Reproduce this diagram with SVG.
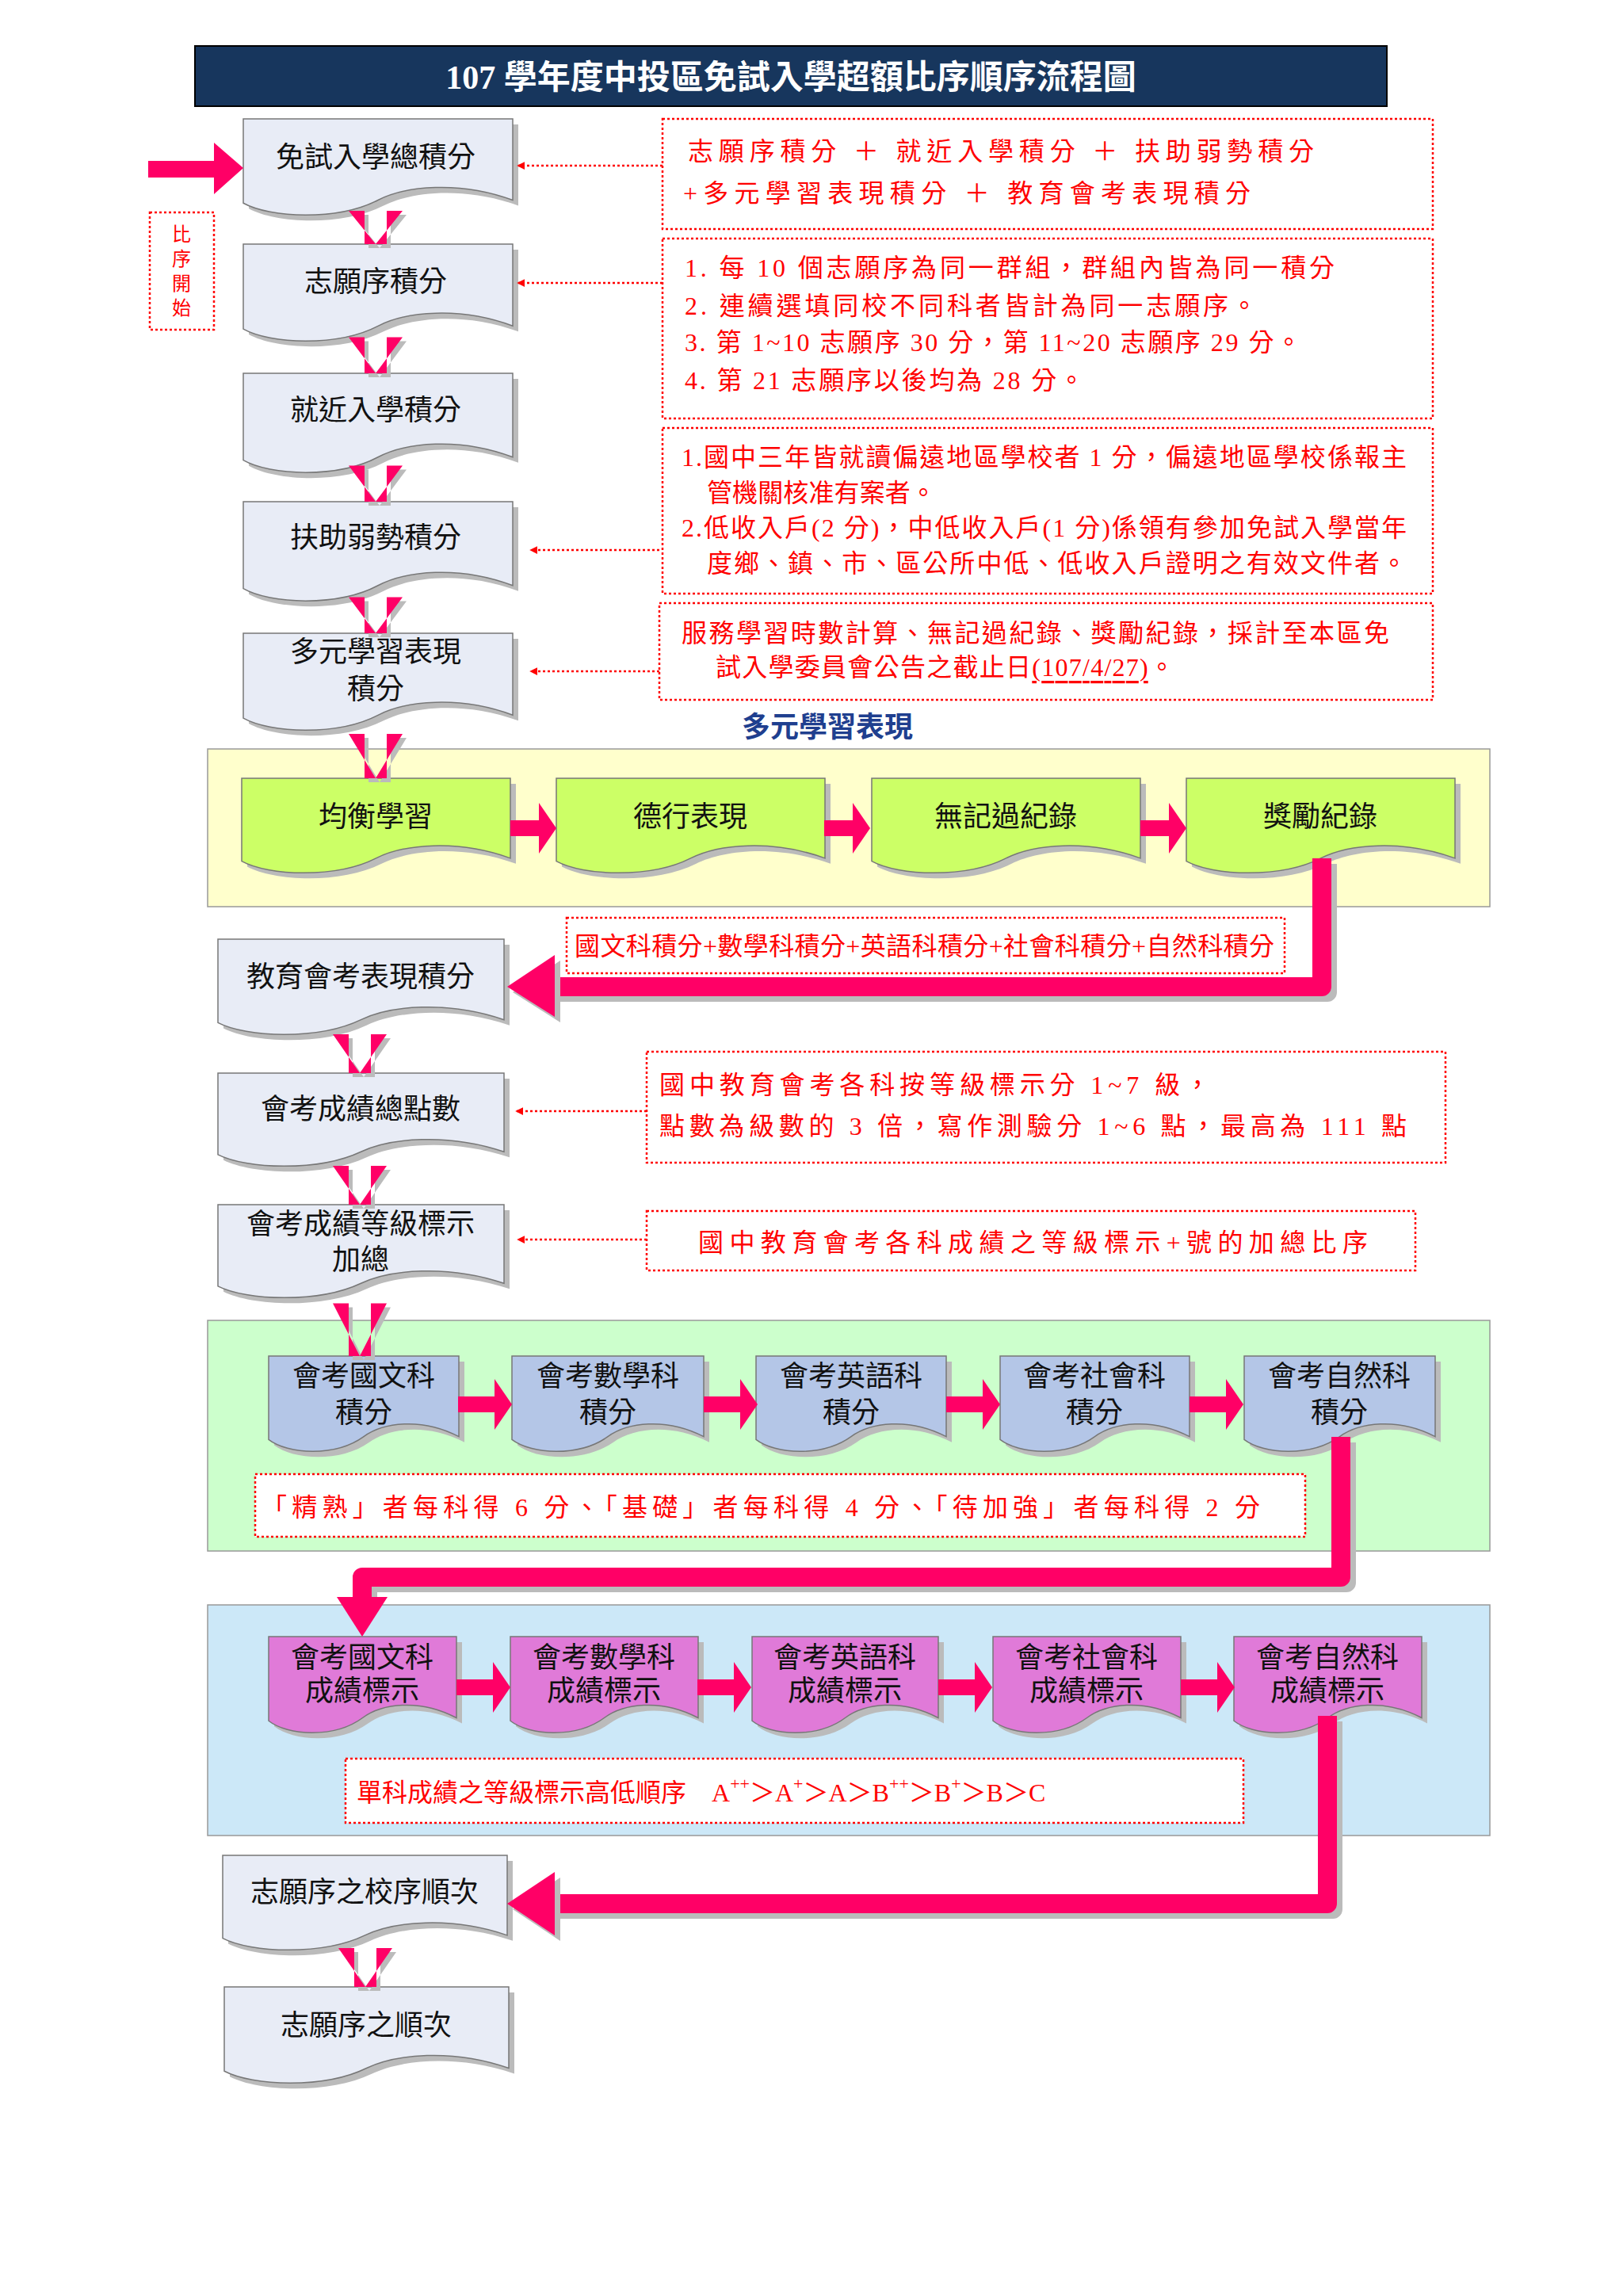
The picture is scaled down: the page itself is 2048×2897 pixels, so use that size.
<svg xmlns="http://www.w3.org/2000/svg" xmlns:xlink="http://www.w3.org/1999/xlink" width="2048" height="2897" viewBox="0 0 2048 2897">
<style>
text{font-family:"Liberation Serif","Noto Sans CJK TC",serif;dominant-baseline:central}
.nt{font-size:36px;fill:#111;text-anchor:middle}
.rt{font-size:32px;fill:#ff0000}
.rb{fill:#fff;stroke:#ff0000;stroke-width:2.5;stroke-dasharray:3 3}
.dl{stroke:#ff0000;stroke-width:2.5;stroke-dasharray:3 3;fill:none;marker-end:url(#ra)}
.pk{fill:#ff0066}
.sh{fill:#bbbbbb}
.bar{fill:none;stroke:#ff0066;stroke-width:24;stroke-linejoin:round}
.bsh{fill:none;stroke:#bbbbbb;stroke-width:24;stroke-linejoin:round}
.d{fill:#e8ecf6}.g{fill:#ccff66}.b{fill:#b4c6e7}.p{fill:#e07ad8}
</style>
<defs>
<path id="doc" d="M0 0 H100 V82 C80 62 60 68 50 82 C35 103 10 100 0 85 Z" stroke="#777" stroke-width="1.5" vector-effect="non-scaling-stroke"/>
<path id="dsh" d="M0 0 H100 V82 C80 62 60 68 50 82 C35 103 10 100 0 85 Z"/>
<marker id="ra" markerWidth="10" markerHeight="10" refX="8" refY="5" orient="auto" markerUnits="userSpaceOnUse"><path d="M0 0 L10 5 L0 10 Z" transform="scale(1.4) translate(-3,-1.5)" fill="#ff0000"/></marker>
<path id="da" d="M-14 0 H14 V-35 H34 L0 0 L-34 -35 H-14 Z"/>
</defs>
<rect width="2048" height="2897" fill="#fff"/>
<g id="title"><rect x="246" y="58" width="1504" height="76" fill="#17365d" stroke="#000" stroke-width="2"/><text x="998" y="98" font-size="42" font-weight="bold" fill="#fff" text-anchor="middle">107 學年度中投區免試入學超額比序順序流程圖</text></g>
<g id="panels">
<rect x="262" y="945" width="1618" height="199" fill="#ffffcc" stroke="#999" stroke-width="1.5"/>
<rect x="262" y="1666" width="1618" height="291" fill="#ccffcc" stroke="#999" stroke-width="1.5"/>
<rect x="262" y="2025" width="1618" height="291" fill="#cce8f8" stroke="#999" stroke-width="1.5"/>
</g>
<g id="start"><rect x="189" y="268" width="81" height="148" class="rb"/><text x="229" y="296" font-size="24" fill="#ff0000" text-anchor="middle">比</text><text x="229" y="327" font-size="24" fill="#ff0000" text-anchor="middle">序</text><text x="229" y="358" font-size="24" fill="#ff0000" text-anchor="middle">開</text><text x="229" y="389" font-size="24" fill="#ff0000" text-anchor="middle">始</text></g>
<g id="nodes">
<g id="n1"><use href="#dsh" class="sh" transform="translate(314,157) scale(3.4,1.25)"/><use href="#doc" class="d" transform="translate(307,150) scale(3.4,1.25)"/><text class="nt" x="474" y="199">免試入學總積分</text></g>
<g id="n2"><use href="#dsh" class="sh" transform="translate(314,315) scale(3.4,1.26)"/><use href="#doc" class="d" transform="translate(307,308) scale(3.4,1.26)"/><text class="nt" x="474" y="356">志願序積分</text></g>
<g id="n3"><use href="#dsh" class="sh" transform="translate(314,478) scale(3.4,1.29)"/><use href="#doc" class="d" transform="translate(307,471) scale(3.4,1.29)"/><text class="nt" x="474" y="518">就近入學積分</text></g>
<g id="n4"><use href="#dsh" class="sh" transform="translate(314,640) scale(3.4,1.29)"/><use href="#doc" class="d" transform="translate(307,633) scale(3.4,1.29)"/><text class="nt" x="474" y="679">扶助弱勢積分</text></g>
<g id="n5"><use href="#dsh" class="sh" transform="translate(314,806) scale(3.4,1.26)"/><use href="#doc" class="d" transform="translate(307,799) scale(3.4,1.26)"/><text class="nt" x="474" y="823">多元學習表現</text><text class="nt" x="474" y="870">積分</text></g>
<g id="g1"><use href="#dsh" class="sh" transform="translate(312,989) scale(3.39,1.23)"/><use href="#doc" class="g" transform="translate(305,982) scale(3.39,1.23)"/><text class="nt" x="474" y="1031">均衡學習</text></g>
<g id="g2"><use href="#dsh" class="sh" transform="translate(709,989) scale(3.39,1.23)"/><use href="#doc" class="g" transform="translate(702,982) scale(3.39,1.23)"/><text class="nt" x="871" y="1031">德行表現</text></g>
<g id="g3"><use href="#dsh" class="sh" transform="translate(1107,989) scale(3.39,1.23)"/><use href="#doc" class="g" transform="translate(1100,982) scale(3.39,1.23)"/><text class="nt" x="1269" y="1031">無記過紀錄</text></g>
<g id="g4"><use href="#dsh" class="sh" transform="translate(1504,989) scale(3.39,1.23)"/><use href="#doc" class="g" transform="translate(1497,982) scale(3.39,1.23)"/><text class="nt" x="1666" y="1031">獎勵紀錄</text></g>
<g id="n6"><use href="#dsh" class="sh" transform="translate(282,1192) scale(3.61,1.24)"/><use href="#doc" class="d" transform="translate(275,1185) scale(3.61,1.24)"/><text class="nt" x="455" y="1233">教育會考表現積分</text></g>
<g id="n7"><use href="#dsh" class="sh" transform="translate(282,1361) scale(3.61,1.21)"/><use href="#doc" class="d" transform="translate(275,1354) scale(3.61,1.21)"/><text class="nt" x="455" y="1400">會考成績總點數</text></g>
<g id="n8"><use href="#dsh" class="sh" transform="translate(282,1527) scale(3.61,1.21)"/><use href="#doc" class="d" transform="translate(275,1520) scale(3.61,1.21)"/><text class="nt" x="455" y="1545">會考成績等級標示</text><text class="nt" x="455" y="1590">加總</text></g>
<g id="b1"><use href="#dsh" class="sh" transform="translate(346,1718) scale(2.4,1.24)"/><use href="#doc" class="b" transform="translate(339,1711) scale(2.4,1.24)"/><text class="nt" x="459" y="1737">會考國文科</text><text class="nt" x="459" y="1783">積分</text></g>
<g id="b2"><use href="#dsh" class="sh" transform="translate(653,1718) scale(2.42,1.24)"/><use href="#doc" class="b" transform="translate(646,1711) scale(2.42,1.24)"/><text class="nt" x="767" y="1737">會考數學科</text><text class="nt" x="767" y="1783">積分</text></g>
<g id="b3"><use href="#dsh" class="sh" transform="translate(961,1718) scale(2.4,1.24)"/><use href="#doc" class="b" transform="translate(954,1711) scale(2.4,1.24)"/><text class="nt" x="1074" y="1737">會考英語科</text><text class="nt" x="1074" y="1783">積分</text></g>
<g id="b4"><use href="#dsh" class="sh" transform="translate(1269,1718) scale(2.39,1.24)"/><use href="#doc" class="b" transform="translate(1262,1711) scale(2.39,1.24)"/><text class="nt" x="1381" y="1737">會考社會科</text><text class="nt" x="1381" y="1783">積分</text></g>
<g id="b5"><use href="#dsh" class="sh" transform="translate(1577,1718) scale(2.41,1.24)"/><use href="#doc" class="b" transform="translate(1570,1711) scale(2.41,1.24)"/><text class="nt" x="1690" y="1737">會考自然科</text><text class="nt" x="1690" y="1783">積分</text></g>
<g id="p1"><use href="#dsh" class="sh" transform="translate(346,2072) scale(2.37,1.25)"/><use href="#doc" class="p" transform="translate(339,2065) scale(2.37,1.25)"/><text class="nt" x="457" y="2092">會考國文科</text><text class="nt" x="457" y="2134">成績標示</text></g>
<g id="p2"><use href="#dsh" class="sh" transform="translate(651,2072) scale(2.37,1.25)"/><use href="#doc" class="p" transform="translate(644,2065) scale(2.37,1.25)"/><text class="nt" x="762" y="2092">會考數學科</text><text class="nt" x="762" y="2134">成績標示</text></g>
<g id="p3"><use href="#dsh" class="sh" transform="translate(956,2072) scale(2.35,1.25)"/><use href="#doc" class="p" transform="translate(949,2065) scale(2.35,1.25)"/><text class="nt" x="1066" y="2092">會考英語科</text><text class="nt" x="1066" y="2134">成績標示</text></g>
<g id="p4"><use href="#dsh" class="sh" transform="translate(1260,2072) scale(2.37,1.25)"/><use href="#doc" class="p" transform="translate(1253,2065) scale(2.37,1.25)"/><text class="nt" x="1371" y="2092">會考社會科</text><text class="nt" x="1371" y="2134">成績標示</text></g>
<g id="p5"><use href="#dsh" class="sh" transform="translate(1564,2072) scale(2.37,1.25)"/><use href="#doc" class="p" transform="translate(1557,2065) scale(2.37,1.25)"/><text class="nt" x="1675" y="2092">會考自然科</text><text class="nt" x="1675" y="2134">成績標示</text></g>
<g id="n9"><use href="#dsh" class="sh" transform="translate(288,2348) scale(3.59,1.23)"/><use href="#doc" class="d" transform="translate(281,2341) scale(3.59,1.23)"/><text class="nt" x="460" y="2388">志願序之校序順次</text></g>
<g id="n10"><use href="#dsh" class="sh" transform="translate(290,2514) scale(3.59,1.25)"/><use href="#doc" class="d" transform="translate(283,2507) scale(3.59,1.25)"/><text class="nt" x="462" y="2556">志願序之順次</text></g>
</g>
<g id="notes">
<rect x="836" y="150" width="972" height="139" class="rb"/>
<text class="rt" font-size="34" x="868" y="191" textLength="790">志願序積分 ＋ 就近入學積分 ＋ 扶助弱勢積分</text>
<text class="rt" font-size="34" x="862" y="244" textLength="716">+多元學習表現積分 ＋ 教育會考表現積分</text>
<rect x="836" y="301" width="972" height="227" class="rb"/>
<text class="rt" x="864" y="338" textLength="820">1.  每 10 個志願序為同一群組，群組內皆為同一積分</text>
<text class="rt" x="864" y="386" textLength="722">2.  連續選填同校不同科者皆計為同一志願序。</text>
<text class="rt" x="864" y="432" textLength="778">3.  第 1~10 志願序 30 分，第 11~20 志願序 29 分。</text>
<text class="rt" x="864" y="480" textLength="504">4.  第 21 志願序以後均為 28 分。</text>
<rect x="836" y="540" width="972" height="209" class="rb"/>
<text class="rt" font-size="30" x="860" y="577" textLength="915">1.國中三年皆就讀偏遠地區學校者 1 分，偏遠地區學校係報主</text>
<text class="rt" font-size="30" x="892" y="622" textLength="289">管機關核准有案者。</text>
<text class="rt" font-size="30" x="860" y="666" textLength="915">2.低收入戶(2 分)，中低收入戶(1 分)係領有參加免試入學當年</text>
<text class="rt" font-size="30" x="892" y="711" textLength="883">度鄉、鎮、市、區公所中低、低收入戶證明之有效文件者。</text>
<rect x="832" y="761" width="976" height="122" class="rb"/>
<text class="rt" font-size="30" x="860" y="799" textLength="893">服務學習時數計算、無記過紀錄、獎勵紀錄，採計至本區免</text>
<text class="rt" font-size="30" x="903" y="842" textLength="579">試入學委員會公告之截止日<tspan text-decoration="underline">(107/4/27)</tspan>。</text>
<text x="1044" y="918" font-size="36" font-weight="bold" fill="#1f3f8f" text-anchor="middle">多元學習表現</text>
<rect x="715" y="1158" width="906" height="70" class="rb"/>
<text class="rt" font-size="28" x="725" y="1194" textLength="883">國文科積分+數學科積分+英語科積分+社會科積分+自然科積分</text>
<rect x="816" y="1327" width="1008" height="140" class="rb"/>
<text class="rt" font-size="34" x="832" y="1369" textLength="695">國中教育會考各科按等級標示分 1~7 級，</text>
<text class="rt" font-size="34" x="832" y="1421" textLength="943">點數為級數的 3 倍，寫作測驗分 1~6 點，最高為 111 點</text>
<rect x="816" y="1528" width="970" height="75" class="rb"/>
<text class="rt" font-size="34" x="881" y="1568" textLength="845">國中教育會考各科成績之等級標示+號的加總比序</text>
<rect x="322" y="1860" width="1325" height="79" class="rb"/>
<text class="rt" font-size="34" x="330" y="1902" textLength="1260">「精熟」者每科得 6 分、「基礎」者每科得 4 分、「待加強」者每科得 2 分</text>
<rect x="436" y="2219" width="1133" height="81" class="rb"/>
<text class="rt" font-size="36" x="450" y="2262">單科成績之等級標示高低順序　A<tspan font-size="22" dy="-12">++</tspan><tspan dy="12">＞A</tspan><tspan font-size="22" dy="-12">+</tspan><tspan dy="12">＞A＞B</tspan><tspan font-size="22" dy="-12">++</tspan><tspan dy="12">＞B</tspan><tspan font-size="22" dy="-12">+</tspan><tspan dy="12">＞B＞C</tspan></text>
</g>
<g id="connectors">
<polygon class="pk" points="187,203 270,203 270,180 307,212 270,245 270,224 187,224"/>
<path class="dl" d="M836 209 H654"/>
<path class="dl" d="M836 357 H654"/>
<path class="dl" d="M832 694 H670"/>
<path class="dl" d="M832 847 H670"/>
<path class="dl" d="M816 1402 H652"/>
<path class="dl" d="M816 1564 H654"/>
<g>
<use href="#da" class="sh" transform="translate(479,313) scale(1,1.2)"/><use href="#da" class="pk" transform="translate(474,308) scale(1,1.2)"/>
<use href="#da" class="sh" transform="translate(479,476) scale(1,1.3)"/><use href="#da" class="pk" transform="translate(474,471)  scale(1,1.3)"/>
<use href="#da" class="sh" transform="translate(479,638) scale(1,1.3)"/><use href="#da" class="pk" transform="translate(474,633) scale(1,1.3)"/>
<use href="#da" class="sh" transform="translate(479,804) scale(1,1.3)"/><use href="#da" class="pk" transform="translate(474,799) scale(1,1.3)"/>
<use href="#da" class="sh" transform="translate(479,987) scale(1,1.6)"/><use href="#da" class="pk" transform="translate(474,982) scale(1,1.6)"/>
<use href="#da" class="sh" transform="translate(459,1359) scale(1,1.4)"/><use href="#da" class="pk" transform="translate(454,1354) scale(1,1.4)"/>
<use href="#da" class="sh" transform="translate(459,1525) scale(1,1.4)"/><use href="#da" class="pk" transform="translate(454,1520) scale(1,1.4)"/>
<use href="#da" class="sh" transform="translate(459,1716) scale(1,1.9)"/><use href="#da" class="pk" transform="translate(454,1711) scale(1,1.9)"/>
<use href="#da" class="sh" transform="translate(466,2512) scale(1,1.4)"/><use href="#da" class="pk" transform="translate(461,2507) scale(1,1.4)"/>
</g>
<g>
<use href="#ha" class="pk" transform="translate(644,1045)"/><use href="#ha" class="pk" transform="translate(1040,1045)"/><use href="#ha" class="pk" transform="translate(1439,1045)"/>
<use href="#hb" class="pk" transform="translate(578,1772)"/><use href="#hb" class="pk" transform="translate(888,1772)"/><use href="#hb" class="pk" transform="translate(1194,1772)"/><use href="#hb" class="pk" transform="translate(1501,1772)"/>
<use href="#hc" class="pk" transform="translate(576,2129)"/><use href="#hc" class="pk" transform="translate(880,2129)"/><use href="#hc" class="pk" transform="translate(1184,2129)"/><use href="#hc" class="pk" transform="translate(1490,2129)"/>
</g>
<defs>
<path id="ha" d="M0 -10 H36 V-32 L58 0 L36 32 V10 H0 Z"/>
<path id="hb" d="M0 -10 H46 V-32 L68 0 L46 32 V10 H0 Z"/>
<path id="hc" d="M0 -10 H46 V-32 L68 0 L46 32 V10 H0 Z"/>
</defs>
<path class="bsh" d="M1675 1090 V1252 H700"/>
<path class="bar" d="M1668 1083 V1245 H700"/>
<polygon class="sh" points="647,1252 707,1212 707,1290"/>
<polygon class="pk" points="640,1245 700,1205 700,1283"/>
<path class="bsh" d="M1699 1820 V1997 H464 V2025"/>
<path class="bar" d="M1692 1813 V1990 H457 V2020"/>
<polygon class="pk" points="457,2065 425,2015 489,2015"/>
<path class="bsh" d="M1682 2172 V2409 H700"/>
<path class="bar" d="M1675 2165 V2402 H700"/>
<polygon class="sh" points="647,2409 707,2369 707,2449"/>
<polygon class="pk" points="640,2402 700,2362 700,2442"/>
</g>
</svg>
